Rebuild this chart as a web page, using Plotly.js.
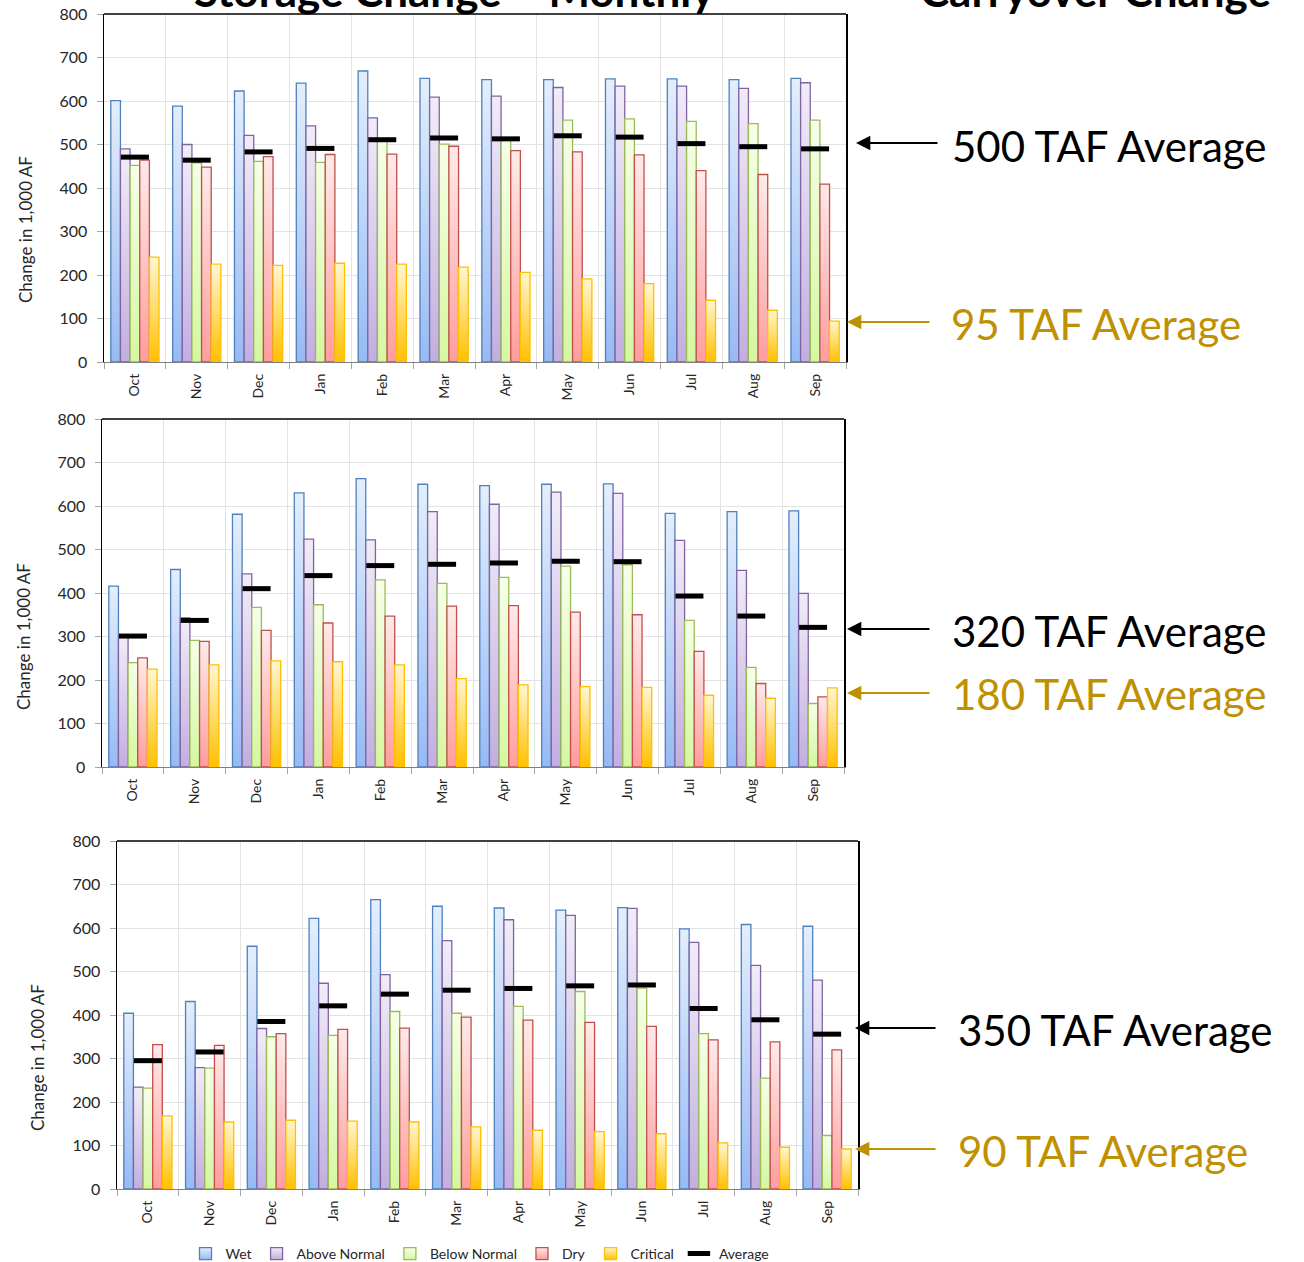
<!DOCTYPE html>
<html>
<head>
<meta charset="utf-8">
<script src="https://cdn.plot.ly/plotly-3.0.1.min.js"></script>
<style>
  html, body { margin: 0; padding: 0; background: #fff; }
  #chart { width: 1304px; height: 1262px; }
</style>
</head>
<body>
<div id="chart"></div>
<script>
// ---------------- DATA ----------------
const months = ['Oct','Nov','Dec','Jan','Feb','Mar','Apr','May','Jun','Jul','Aug','Sep'];
const seriesNames = ['Wet','Above Normal','Below Normal','Dry','Critical'];

// Panel 1
const p1Wet  = [601,588,623,641,669,652,649,649,651,651,649,652];
const p1AN   = [490,500,521,543,561,609,611,631,634,634,629,642];
const p1BN   = [452,458,461,459,508,501,512,556,559,553,548,556];
const p1Dry  = [464,448,472,477,478,496,486,483,476,440,431,409];
const p1Crit = [241,225,222,227,225,218,206,191,180,142,119,94];
const p1Avg  = [471,464,483,491,511,515,513,520,517,502,495,490];

// Panel 2
const p2Wet  = [416,454,581,630,663,650,647,650,651,583,587,589];
const p2AN   = [302,343,444,524,522,587,604,632,629,521,452,399];
const p2BN   = [240,291,367,373,430,422,436,462,465,337,229,146];
const p2Dry  = [251,289,314,331,347,370,371,356,350,266,192,161];
const p2Crit = [225,235,244,242,235,203,189,185,183,165,158,182];
const p2Avg  = [301,337,410,440,463,466,469,473,472,393,347,321];

// Panel 3
const p3Wet  = [404,431,558,622,665,650,646,641,647,598,608,604];
const p3AN   = [234,279,369,473,493,571,619,629,645,567,514,480];
const p3BN   = [232,278,350,353,408,404,420,454,462,357,255,123];
const p3Dry  = [332,330,357,367,370,395,388,383,374,343,338,320];
const p3Crit = [168,154,158,156,154,143,135,132,127,106,96,92];
const p3Avg  = [295,315,385,421,448,457,461,467,469,415,389,356];

// Annotation texts
const bigLabels = [
  ['500 TAF Average','95 TAF Average'],
  ['320 TAF Average','180 TAF Average'],
  ['350 TAF Average','90 TAF Average']
];
const titleLeft = 'Storage Change – Monthly';
const titleRight = 'Carryover Change';
const yTitle = 'Change in 1,000 AF';

// ---------------- STYLE ----------------
const W = 1304, H = 1262;
const FONT = 'Lato, Carlito, "Open Sans", sans-serif';
const GOLD = '#BF9000';
// [border, gradient top, gradient bottom]
const styles = [
  ['#4F81BD', '#E4EEFC', '#97BAF4'],
  ['#8064A2', '#F1ECF8', '#C2AEDF'],
  ['#9BBB59', '#F6FFE8', '#D5F7A0'],
  ['#C0504D', '#FFEAEA', '#FF9D9D'],
  ['#FFC000', '#FFF6D2', '#FFC000']
];
// unique keys for fill replacement
const keyColors = ['#010203','#020304','#030405','#040506','#050607'];

const panels = [
  {xl:104, xr:846, yt:14,  yb:362,  tx:25, ty:230, data:[p1Wet,p1AN,p1BN,p1Dry,p1Crit], avg:p1Avg,
   arrows:[{y:143, tip:856, tail:939, ty:146, tx:950}, {y:322, tip:847, tail:931, ty:324, tx:949}]},
  {xl:102, xr:844, yt:419, yb:767,  tx:23, ty:637, data:[p2Wet,p2AN,p2BN,p2Dry,p2Crit], avg:p2Avg,
   arrows:[{y:629, tip:847, tail:931, ty:631, tx:950}, {y:693, tip:847, tail:931, ty:694, tx:950}]},
  {xl:117, xr:858, yt:841, yb:1189, tx:37, ty:1058, data:[p3Wet,p3AN,p3BN,p3Dry,p3Crit], avg:p3Avg,
   arrows:[{y:1028, tip:855, tail:937, ty:1030, tx:956}, {y:1149, tip:855, tail:937, ty:1151, tx:956}]}
];

const px = v => v / W;
const py = v => 1 - v / H;

const traces = [];
const layout = {
  width: W, height: H,
  margin: {l:0, r:0, t:0, b:0, pad:0, autoexpand:false},
  paper_bgcolor: '#ffffff',
  plot_bgcolor: '#ffffff',
  barmode: 'group',
  bargap: 0.22,
  bargroupgap: 0,
  showlegend: true,
  font: {family: FONT, color: '#262626'},
  legend: {
    orientation: 'h', x: 480/W, xanchor: 'center', y: py(1254), yanchor: 'middle',
    font: {family: FONT, size: 14, color: '#262626'},
    itemwidth: 30, tracegroupgap: 0, traceorder: 'normal'
  },
  annotations: [],
  shapes: []
};

panels.forEach((p, i) => {
  const n = i === 0 ? '' : String(i + 1);
  const xa = 'x' + n, ya = 'y' + n;
  p.data.forEach((vals, s) => {
    traces.push({
      type: 'bar', name: seriesNames[s], x: months, y: vals,
      xaxis: xa, yaxis: ya, showlegend: i === 0, legendgroup: seriesNames[s],
      marker: {color: keyColors[s], line: {color: styles[s][0], width: 1.3}},
      hoverinfo: 'skip'
    });
  });
  traces.push({
    type: 'scatter', mode: 'markers', name: 'Average', x: months, y: p.avg,
    xaxis: xa, yaxis: ya, showlegend: i === 0, legendgroup: 'Average',
    marker: {symbol: 'line-ew', size: 20, color: '#000', line: {color: '#000', width: 5}},
    cliponaxis: false, hoverinfo: 'skip'
  });

  layout['xaxis' + n] = {
    domain: [px(p.xl), px(p.xr)], anchor: ya, type: 'category',
    range: [-0.5, months.length - 0.5], autorange: false,
    tickson: 'boundaries', ticks: 'outside', ticklen: 6, tickcolor: '#A6A6A6',
    ticklabelstandoff: 5,
    showgrid: true, gridcolor: '#E3E3E3', gridwidth: 1,
    showline: true, linecolor: '#808080', linewidth: 1.2,
    tickangle: -90, tickfont: {family: FONT, size: 14, color: '#262626'},
    fixedrange: true
  };
  layout['yaxis' + n] = {
    domain: [py(p.yb), py(p.yt)], anchor: xa, range: [0, 800], autorange: false, dtick: 100,
    ticks: 'outside', ticklen: 6, tickcolor: '#A6A6A6', ticklabelstandoff: 6,
    showgrid: true, gridcolor: '#E3E3E3', gridwidth: 1,
    showline: true, linecolor: '#000000', linewidth: 1.5, mirror: true,
    zeroline: false,
    tickfont: {family: FONT, size: 16, color: '#262626'},
    fixedrange: true
  };
  // top frame line
  layout.shapes.push({
    type: 'line', xref: xa + ' domain', yref: ya + ' domain',
    x0: 0, x1: 1, y0: 1, y1: 1, line: {color: '#000', width: 1.5}
  });
  // y axis title (rotated annotation)
  layout.annotations.push({
    text: yTitle, xref: 'paper', yref: 'paper', x: px(p.tx), y: py(p.ty),
    xanchor: 'center', yanchor: 'middle', textangle: -90, showarrow: false,
    font: {family: FONT, size: 17, color: '#262626'}
  });
  // arrows and big labels
  p.arrows.forEach((a, k) => {
    const col = k === 0 ? '#000000' : GOLD;
    layout.annotations.push({
      text: '', xref: 'paper', yref: 'paper', x: px(a.tip), y: py(a.y),
      showarrow: true, axref: 'pixel', ayref: 'pixel', ax: a.tail - a.tip, ay: 0,
      arrowhead: 2, arrowsize: 1.3, arrowwidth: 2.2, arrowcolor: col, standoff: 0
    });
    layout.annotations.push({
      text: bigLabels[i][k], xref: 'paper', yref: 'paper', x: px(a.tx), y: py(a.ty),
      xanchor: 'left', yanchor: 'middle', showarrow: false,
      font: {family: FONT, size: 42, color: col}
    });
  });
});

// Big bold titles (cut off at the top edge, as in the original)
layout.annotations.push({
  text: '<b>' + titleLeft + '</b>', xref: 'paper', yref: 'paper', x: px(454), y: py(18),
  xanchor: 'center', yanchor: 'bottom', showarrow: false,
  font: {family: FONT, size: 44, color: '#000'}
});
layout.annotations.push({
  text: '<b>' + titleRight + '</b>', xref: 'paper', yref: 'paper', x: px(1095), y: py(18),
  xanchor: 'center', yanchor: 'bottom', showarrow: false,
  font: {family: FONT, size: 44, color: '#000'}
});

function hexToRgbStr(h) {
  const r = parseInt(h.slice(1,3),16), g = parseInt(h.slice(3,5),16), b = parseInt(h.slice(5,7),16);
  return 'rgb(' + r + ', ' + g + ', ' + b + ')';
}

Plotly.newPlot('chart', traces, layout, {staticPlot: true, displayModeBar: false}).then(gd => {
  const NS = 'http://www.w3.org/2000/svg';
  const svg = gd.querySelector('.main-svg');
  let defs = svg.querySelector('defs');
  if (!defs) { defs = document.createElementNS(NS, 'defs'); svg.insertBefore(defs, svg.firstChild); }
  const map = {};
  styles.forEach((st, s) => {
    const lg = document.createElementNS(NS, 'linearGradient');
    const id = 'barGrad' + s;
    lg.setAttribute('id', id);
    lg.setAttribute('x1', '0'); lg.setAttribute('y1', '0');
    lg.setAttribute('x2', '0'); lg.setAttribute('y2', '1');
    const s1 = document.createElementNS(NS, 'stop');
    s1.setAttribute('offset', '0'); s1.setAttribute('stop-color', st[1]);
    const s2 = document.createElementNS(NS, 'stop');
    s2.setAttribute('offset', '1'); s2.setAttribute('stop-color', st[2]);
    lg.appendChild(s1); lg.appendChild(s2);
    defs.appendChild(lg);
    map[hexToRgbStr(keyColors[s])] = 'url(#' + id + ')';
  });
  gd.querySelectorAll('path').forEach(pth => {
    const f = pth.style.fill;
    if (map[f]) pth.style.fill = map[f];
  });
});
</script>
</body>
</html>
